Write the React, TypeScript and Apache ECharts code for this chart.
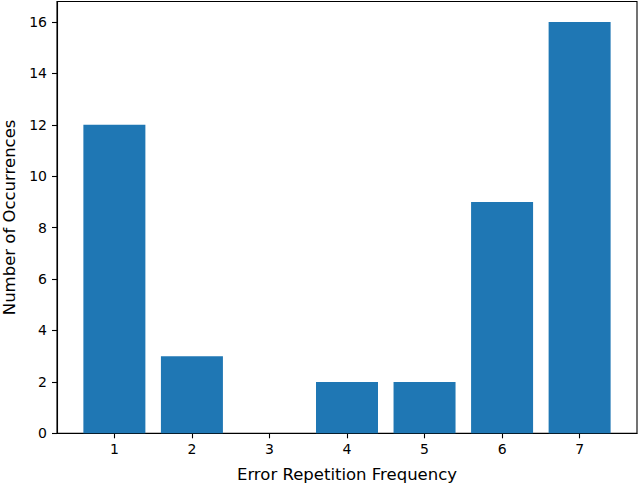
import { useEffect, useRef } from 'react'
import * as echarts from 'echarts'

const frequencies = [1, 2, 3, 4, 5, 6, 7]
const occurrences = [12, 3, 0, 2, 2, 9, 16]
const yTicks = [0, 2, 4, 6, 8, 10, 12, 14, 16]

const FONT = 'DejaVu Sans'

export default function App() {
  const chartRef = useRef<HTMLDivElement>(null)

  useEffect(() => {
    if (!chartRef.current) return
    const chart = echarts.init(chartRef.current, null, { renderer: 'svg' })

    chart.setOption({
      animation: false,
      grid: {
        left: 57, right: 3, top: 1.5, bottom: 49.7,
        outerBoundsMode: 'none',
        containLabel: false,
        show: true, borderColor: '#000', borderWidth: 1.1, backgroundColor: 'transparent'
      },
      xAxis: {
        type: 'value',
        min: 0.26,
        max: 7.74,
        name: 'Error Repetition Frequency',
        nameLocation: 'middle',
        nameGap: 33,
        nameTextStyle: { color: '#000', fontFamily: FONT, fontSize: 16.5 },
        splitLine: { show: false },
        axisLine: { show: true, lineStyle: { color: '#000', width: 1.1 } },
        axisTick: { show: true, length: 5, lineStyle: { color: '#000', width: 1.1 }, customValues: frequencies },
        axisLabel: { color: '#000', fontFamily: FONT, fontSize: 14, margin: 9, customValues: frequencies }
      },
      yAxis: {
        type: 'value',
        min: 0,
        max: 16.8,
        name: 'Number of Occurrences',
        nameLocation: 'middle',
        nameGap: 39,
        nameTextStyle: { color: '#000', fontFamily: FONT, fontSize: 16.5 },
        splitLine: { show: false },
        axisLine: { show: true, lineStyle: { color: '#000', width: 1.1 } },
        axisTick: { show: true, length: 5, lineStyle: { color: '#000', width: 1.1 }, customValues: yTicks },
        axisLabel: { color: '#000', fontFamily: FONT, fontSize: 14, margin: 10, customValues: yTicks }
      },
      series: [{
        type: 'bar',
        barWidth: 62,
        itemStyle: { color: '#1f77b4' },
        data: frequencies.map((f, i) => [f, occurrences[i]])
      }]
    })

    return () => {
      chart.dispose()
    }
  }, [])

  return (
    <div
      ref={chartRef}
      style={{ position: 'fixed', left: 0, top: 0, width: 640, height: 483, background: '#fff' }}
    />
  )
}
